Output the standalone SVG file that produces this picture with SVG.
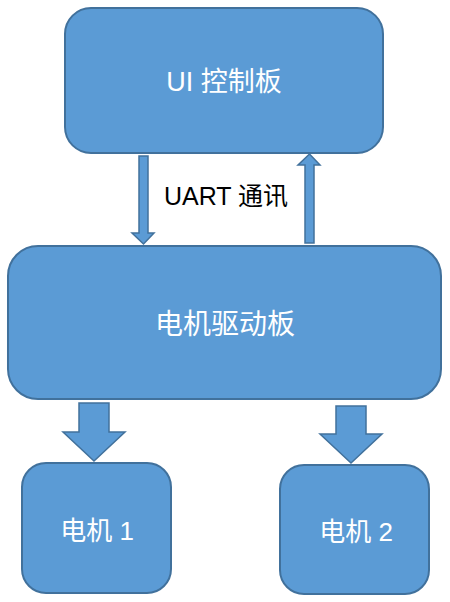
<svg xmlns="http://www.w3.org/2000/svg" width="450" height="602" viewBox="0 0 450 602">
<style>
.box{fill:#5B9BD5;stroke:#41719C;stroke-width:2}
.arr{fill:#5B9BD5;stroke:#41719C;stroke-width:1.5;stroke-linejoin:miter}
.lbl{fill:#FFFFFF;font-family:"Liberation Sans","Noto Sans CJK SC",sans-serif;text-anchor:middle}
.cap{fill:#000000;font-family:"Liberation Sans","Noto Sans CJK SC",sans-serif;font-size:25px}
</style>
<rect x="0" y="0" width="450" height="602" fill="#FFFFFF"/>
<g id="ui-board">
<rect class="box" x="65" y="8" width="318" height="145" rx="26" ry="26"/>
<text class="lbl" x="224" y="91" font-size="27">UI 控制板</text>
</g>
<g id="driver-board">
<rect class="box" x="8" y="246" width="433" height="153" rx="30" ry="30"/>
<text class="lbl" x="225" y="334" font-size="28">电机驱动板</text>
</g>
<g id="motor1">
<rect class="box" x="22" y="463" width="149" height="130" rx="24" ry="24"/>
<text class="lbl" x="97" y="540" font-size="26">电机 1</text>
</g>
<g id="motor2">
<rect class="box" x="280" y="465" width="149" height="129" rx="24" ry="24"/>
<text class="lbl" x="356" y="541" font-size="26">电机 2</text>
</g>
<g id="connectors">
<polygon class="arr" points="139,156 148,156 148,233 154,233 143.5,244 132,233 139,233"/>
<polygon class="arr" points="305,243 314,243 314,165 320,165 309.5,154 298,165 305,165"/>
<polygon class="arr" points="79,403 109,403 109,432 125,432 94,461 63,432 79,432"/>
<polygon class="arr" points="336,406 366,406 366,434 382,434 351,463 320,434 336,434"/>
<text class="cap" x="164" y="205">UART 通讯</text>
</g>
</svg>
